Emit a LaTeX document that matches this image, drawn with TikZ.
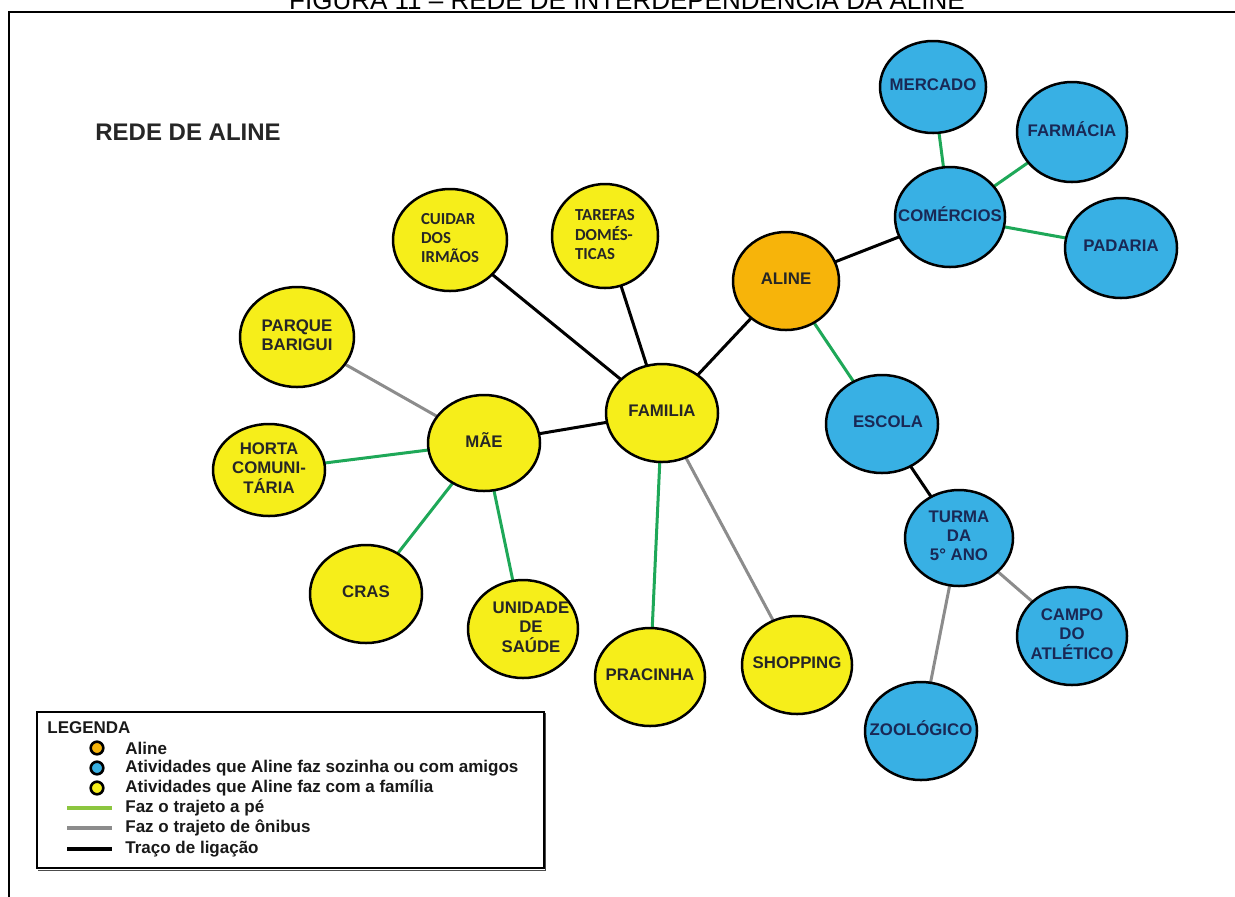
\documentclass[tikz,border=0pt]{standalone}
\usepackage{fontspec}
\setmainfont{Liberation Sans}
\newfontfamily\calib{Carlito}
\usetikzlibrary{shapes.geometric,backgrounds}

\definecolor{famyellow}{RGB}{246,238,26}
\definecolor{soloblue}{RGB}{56,176,228}
\definecolor{alineorange}{RGB}{247,180,10}
\definecolor{walkgreen}{RGB}{30,168,88}
\definecolor{busgray}{RGB}{140,140,140}
\definecolor{navytext}{RGB}{25,40,85}
\definecolor{legendgreen}{RGB}{140,198,63}

% bubble label: zero-width box so the ellipse keeps its own size
\newcommand{\lbl}[1]{\makebox[0pt][c]{\begin{tabular}{@{}c@{}}#1\end{tabular}}}
\newcommand{\lbll}[1]{\makebox[0pt][c]{\calib\begin{tabular}{@{}l@{}}#1\end{tabular}}}

\tikzset{
  sz/.style 2 args={minimum width=#1pt, minimum height=#2pt},
  bubble/.style={ellipse, draw=black, line width=1.25pt, inner sep=0pt,
    font=\bfseries\fontsize{8.4}{9.5}\selectfont},
  fam/.style={bubble, fill=famyellow, text=black!85},
  solo/.style={bubble, fill=soloblue, text=navytext},
  self/.style={bubble, fill=alineorange, text=black!85},
  walk/.style={draw=walkgreen, line width=1.5pt},
  bus/.style={draw=busgray, line width=1.5pt},
  tie/.style={draw=black, line width=1.5pt},
  legdot/.style={circle, draw=black, line width=1.3pt, minimum size=6.3pt, inner sep=0pt},
  legtext/.style={anchor=west, inner sep=0pt, font=\bfseries\fontsize{8.5}{10}\selectfont, text=black!90},
}

\begin{document}
\begin{tikzpicture}[x=0.5pt, y=-0.5pt]
\useasboundingbox (0,0) rectangle (1235,896);
\clip (0,0) rectangle (1235,896);

% caption and outer frame
\node[anchor=base, inner sep=0pt, font=\fontsize{13}{15}\selectfont] (caption) at (627,9)
  {FIGURA 11 -- REDE DE INTERDEPENDÊNCIA DA ALINE};
\draw[line width=1pt] (9,1000) -- (9,12) -- (1300,12);

\node[anchor=west, inner sep=0pt, font=\bfseries\fontsize{12}{14}\selectfont, text=black!85] (heading) at (95,132) {REDE DE ALINE};

% Aline's own activities
\node[solo, sz={53}{46}] (mercado) at (933,87) {\lbl{MERCADO}};
\node[solo, sz={55}{50}] (farmacia) at (1072,132) {\lbl{FARMÁCIA}};
\node[solo, sz={55}{50}] (comercios) at (950,217) {\lbl{COMÉRCIOS}};
\node[solo, sz={56}{50}] (padaria) at (1121,248) {\lbl{PADARIA}};
\node[self, sz={53}{49}] (aline) at (786,281) {\lbl{ALINE}};
\node[solo, sz={56}{49}] (escola) at (882,424) {\lbl{\hspace*{6pt}ESCOLA}};
\node[solo, sz={54}{48}] (turma) at (959,538) {\lbl{TURMA\\DA\\5° ANO}};
\node[solo, sz={55}{49}] (campo) at (1072,636) {\lbl{CAMPO\\DO\\ATLÉTICO}};
\node[solo, sz={56}{49}] (zoo) at (921,731) {\lbl{ZOOLÓGICO}};

% family activities
\node[fam, sz={57}{51}] (cuidar) at (450,240) {\lbll{CUIDAR\\DOS\\IRMÃOS}};
\node[fam, sz={53}{52}] (tarefas) at (605,236) {\lbll{TAREFAS\\DOMÉS-\\TICAS}};
\node[fam, sz={57}{50}] (parque) at (297,337) {\lbl{PARQUE\\BARIGUI}};
\node[fam, sz={56}{48}] (mae) at (484,443) {\lbl{MÃE}};
\node[fam, sz={56}{46}] (horta) at (269,470) {\lbl{HORTA\\COMUNI-\\TÁRIA}};
\node[fam, sz={56}{49}] (familia) at (662,413) {\lbl{FAMILIA}};
\node[fam, sz={56}{49}] (cras) at (366,594) {\lbl{CRAS}};
\node[fam, sz={55}{49}] (unidade) at (523,629) {\lbl{\hspace*{8pt}UNIDADE\\\hspace*{8pt}DE\\\hspace*{8pt}SAÚDE}};
\node[fam, sz={55}{49}] (pracinha) at (650,677) {\lbl{PRACINHA}};
\node[fam, sz={55}{49}] (shopping) at (797,665) {\lbl{SHOPPING}};

% connections, behind the bubbles
\begin{pgfonlayer}{background}
  \draw[tie] (aline.center) -- (comercios.center);
  \draw[walk] (comercios.center) -- (mercado.center);
  \draw[walk] (comercios.center) -- (farmacia.center);
  \draw[walk] (comercios.center) -- (padaria.center);
  \draw[walk] (aline.center) -- (escola.center);
  \draw[tie] (escola.center) -- (turma.center);
  \draw[bus] (turma.center) -- (campo.center);
  \draw[bus] (turma.center) -- (zoo.center);
  \draw[tie] (aline.center) -- (familia.center);
  \draw[tie] (familia.center) -- (cuidar.center);
  \draw[tie] (familia.center) -- (tarefas.center);
  \draw[tie] (familia.center) -- (mae.center);
  \draw[walk] (familia.center) -- (pracinha.center);
  \draw[bus] (familia.center) -- (shopping.center);
  \draw[bus] (mae.center) -- (parque.center);
  \draw[walk] (mae.center) -- (horta.center);
  \draw[walk] (mae.center) -- (cras.center);
  \draw[walk] (mae.center) -- (unidade.center);
\end{pgfonlayer}

% legend
\draw[line width=0.8pt, fill=white] (37,712) rectangle (544,868);
\draw[line width=0.8pt, black!70] (38,870.5) -- (545.5,870.5) -- (545.5,713);
\node[legtext] (legtitle) at (47,728) {LEGENDA};
\node[legdot, fill=alineorange] (dotaline) at (97,748) {};
\node[legdot, fill=soloblue] (dotsolo) at (97,768) {};
\node[legdot, fill=famyellow] (dotfam) at (97,788) {};
\node[legtext] (legaline) at (125,748) {Aline};
\node[legtext] (legsolo) at (125,768) {Atividades que Aline faz sozinha ou com amigos};
\node[legtext] (legfam) at (125,788) {Atividades que Aline faz com a família};
\draw[legendgreen, line width=2pt] (67,808) -- (112,808);
\draw[busgray, line width=2pt] (67,828) -- (112,828);
\draw[black, line width=2pt] (67,849) -- (112,849);
\node[legtext] (legwalk) at (125,808) {Faz o trajeto a pé};
\node[legtext] (legbus) at (125,828) {Faz o trajeto de ônibus};
\node[legtext] (legtie) at (125,849) {Traço de ligação};
\end{tikzpicture}
\end{document}
